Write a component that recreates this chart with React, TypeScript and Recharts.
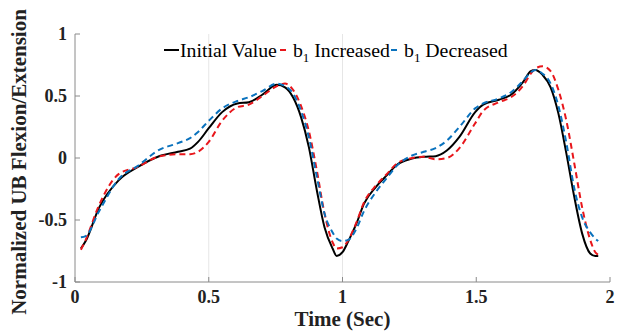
import React from 'react';
import { LineChart, Line, XAxis, YAxis, ReferenceLine, Label } from 'recharts';

const times = [
  0.022, 0.04, 0.09, 0.163, 0.237, 0.31, 0.385, 0.43, 0.46, 0.5, 0.55, 0.607, 0.65, 0.7, 0.755, 0.785,
  0.815, 0.845, 0.874, 0.904, 0.933, 0.963, 0.978, 1.0, 1.022, 1.052, 1.08, 1.126, 1.17, 1.2, 1.26,
  1.304, 1.348, 1.39, 1.437, 1.496, 1.526, 1.585, 1.63, 1.674, 1.704, 1.72, 1.748, 1.778, 1.807,
  1.837, 1.867, 1.896, 1.926, 1.945, 1.956,
];

const initialValue = [
  -0.73, -0.67, -0.4, -0.18, -0.07, 0.01, 0.05, 0.075, 0.13, 0.24, 0.37, 0.44, 0.45, 0.51, 0.59, 0.57,
  0.49, 0.33, 0.09, -0.26, -0.56, -0.73, -0.79, -0.76, -0.67, -0.53, -0.37, -0.23, -0.13, -0.06, -0.005,
  0.01, 0.015, 0.06, 0.17, 0.37, 0.43, 0.47, 0.51, 0.61, 0.7, 0.71, 0.67, 0.57, 0.36,
  0.035, -0.32, -0.61, -0.77, -0.79, -0.79,
];

const b1Increased = [
  -0.74, -0.66, -0.38, -0.13, -0.07, 0.01, 0.03, 0.03, 0.05, 0.13, 0.3, 0.41, 0.43, 0.5, 0.58, 0.6,
  0.55, 0.42, 0.22, -0.1, -0.45, -0.68, -0.73, -0.72, -0.66, -0.52, -0.36, -0.22, -0.12, -0.05, 0.0,
  0.01, -0.01, 0.0, 0.08, 0.28, 0.38, 0.45, 0.49, 0.58, 0.68, 0.72, 0.74, 0.7, 0.55,
  0.3, -0.05, -0.4, -0.66, -0.76, -0.78,
];

const b1Decreased = [
  -0.64, -0.63, -0.43, -0.17, -0.06, 0.06, 0.12, 0.16, 0.21, 0.3, 0.4, 0.46, 0.49, 0.54, 0.6, 0.58,
  0.52, 0.38, 0.17, -0.15, -0.45, -0.6, -0.65, -0.67, -0.66, -0.57, -0.43, -0.27, -0.15, -0.07, 0.02,
  0.05, 0.08, 0.14, 0.25, 0.4, 0.44, 0.48, 0.53, 0.62, 0.69, 0.71, 0.68, 0.6, 0.42,
  0.12, -0.25, -0.48, -0.6, -0.65, -0.67,
];

const xTicks = [0, 0.5, 1, 1.5, 2];
const yTicks = [-1, -0.5, 0, 0.5, 1];

const data = times.map((t, i) => ({
  t,
  initial: initialValue[i],
  inc: b1Increased[i],
  dec: b1Decreased[i],
}));

const font = '"Liberation Serif", "Times New Roman", serif';

// legend sits inside the plot, on top of the svg
function LegendBox() {
  const item = { display: 'flex', alignItems: 'center' } as React.CSSProperties;
  return (
    <div
      style={{
        position: 'absolute',
        left: 164,
        top: 38,
        display: 'flex',
        alignItems: 'center',
        fontFamily: font,
        fontSize: 19.8,
        lineHeight: '24px',
        color: '#000',
        whiteSpace: 'nowrap',
      }}
    >
      <div style={item}>
        <span style={{ width: 15, height: 2, background: '#000', display: 'inline-block', marginRight: 1 }} />
        <span>Initial Value</span>
      </div>
      <div style={{ ...item, marginLeft: 3 }}>
        <span style={{ width: 6, height: 2, background: '#e8161b', display: 'inline-block', marginRight: 7 }} />
        <span>b<sub style={{ fontSize: 13, lineHeight: 0 }}>1</sub> Increased</span>
      </div>
      <div style={{ ...item, marginLeft: 1 }}>
        <span style={{ width: 6, height: 2, background: '#0a72bd', display: 'inline-block', marginRight: 7 }} />
        <span>b<sub style={{ fontSize: 13, lineHeight: 0 }}>1</sub> Decreased</span>
      </div>
    </div>
  );
}

export default function App() {
  const tickStyle = { fontFamily: font, fontSize: 18, fontWeight: 'bold', fill: '#222' };
  return (
    <div style={{ position: 'absolute', left: 0, top: 0, width: 619, height: 331, background: '#fff' }}>
      <LineChart width={619} height={331} data={data} margin={{ top: 34, right: 9, bottom: 0, left: 0 }}>
        <XAxis
          dataKey="t"
          type="number"
          domain={[0, 2]}
          ticks={xTicks}
          height={49}
          stroke="#8a8a8a"
          tickSize={-5}
          tickMargin={13}
          tick={tickStyle}
        >
          <Label value="Time (Sec)" position="insideBottom" offset={5} style={{ fontFamily: font, fontSize: 21, fontWeight: 'bold', fill: '#222' }} />
        </XAxis>
        <YAxis
          type="number"
          domain={[-1, 1]}
          ticks={yTicks}
          width={75}
          stroke="#8a8a8a"
          tickSize={-5}
          tickMargin={13}
          tick={tickStyle}
        >
          <Label
            value="Normalized UB Flexion/Extension"
            angle={-90}
            position="center"
            dx={-19}
            dy={4}
            style={{ fontFamily: font, fontSize: 21, fontWeight: 'bold', fill: '#222', textAnchor: 'middle' }}
          />
        </YAxis>
        <ReferenceLine x={0.5} stroke="#e6e6e6" />
        <ReferenceLine x={1} stroke="#e6e6e6" />
        <Line type="monotone" dataKey="initial" stroke="#000" strokeWidth={2} dot={false} isAnimationActive={false} />
        <Line type="monotone" dataKey="inc" stroke="#e8161b" strokeWidth={2} strokeDasharray="6 4" dot={false} isAnimationActive={false} />
        <Line type="monotone" dataKey="dec" stroke="#0a72bd" strokeWidth={2} strokeDasharray="6 4" dot={false} isAnimationActive={false} />
      </LineChart>
      <LegendBox />
    </div>
  );
}
